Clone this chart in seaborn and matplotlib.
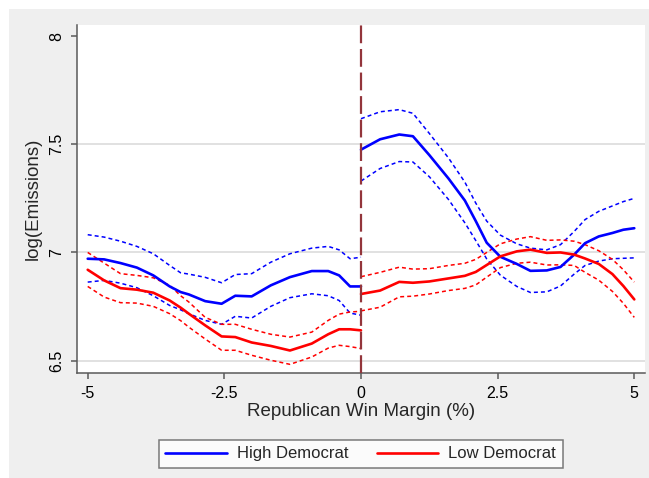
import numpy as np
import pandas as pd
import seaborn as sns
import matplotlib
matplotlib.use("Agg")
import matplotlib.pyplot as plt
from matplotlib.patches import Rectangle
from matplotlib.lines import Line2D

# Running-mean estimates on each side of the cutoff (Republican win margin, %)
x_left = [-5.0, -4.7, -4.4, -4.1, -3.8, -3.5, -3.3, -3.15, -2.85, -2.55,
          -2.3, -2.0, -1.65, -1.3, -0.9, -0.6, -0.4, -0.2, 0.0]
x_right = [0.0, 0.35, 0.7, 0.95, 1.25, 1.6, 1.9, 2.1, 2.3, 2.55,
           2.85, 3.1, 3.4, 3.65, 3.9, 4.1, 4.35, 4.6, 4.8, 5.0]

# High Democrat: fit, upper and lower confidence bounds
high_fit_left = [6.971, 6.968, 6.951, 6.930, 6.894, 6.843, 6.817, 6.806, 6.775, 6.763,
                 6.800, 6.797, 6.848, 6.886, 6.914, 6.914, 6.894, 6.843, 6.843]
high_hi_left = [7.082, 7.071, 7.052, 7.028, 6.994, 6.940, 6.906, 6.900, 6.885, 6.860,
                6.898, 6.902, 6.955, 6.994, 7.020, 7.028, 7.012, 6.971, 6.978]
high_lo_left = [6.863, 6.871, 6.858, 6.837, 6.800, 6.755, 6.735, 6.717, 6.686, 6.668,
                6.705, 6.697, 6.751, 6.791, 6.809, 6.800, 6.778, 6.720, 6.710]
high_fit_right = [7.475, 7.523, 7.545, 7.537, 7.450, 7.342, 7.240, 7.145, 7.045, 6.980,
                  6.947, 6.915, 6.917, 6.933, 6.990, 7.043, 7.074, 7.090, 7.105, 7.112]
high_hi_right = [7.618, 7.650, 7.660, 7.643, 7.550, 7.437, 7.325, 7.228, 7.145, 7.080,
                 7.040, 7.020, 7.012, 7.036, 7.097, 7.152, 7.190, 7.215, 7.235, 7.250]
high_lo_right = [7.330, 7.388, 7.420, 7.418, 7.350, 7.245, 7.137, 7.055, 6.970, 6.895,
                 6.843, 6.815, 6.818, 6.845, 6.900, 6.940, 6.960, 6.971, 6.973, 6.975]

# Low Democrat: fit, upper and lower confidence bounds
low_fit_left = [6.920, 6.871, 6.835, 6.828, 6.814, 6.778, 6.745, 6.717, 6.663, 6.612,
                6.609, 6.584, 6.568, 6.547, 6.579, 6.622, 6.645, 6.645, 6.640]
low_hi_left = [7.000, 6.951, 6.902, 6.894, 6.883, 6.848, 6.800, 6.771, 6.700, 6.668,
               6.668, 6.645, 6.622, 6.609, 6.632, 6.686, 6.715, 6.725, 6.728]
low_lo_left = [6.843, 6.794, 6.768, 6.766, 6.751, 6.717, 6.685, 6.655, 6.600, 6.548,
               6.548, 6.525, 6.502, 6.483, 6.517, 6.558, 6.571, 6.565, 6.556]
low_fit_right = [6.808, 6.824, 6.864, 6.860, 6.866, 6.880, 6.892, 6.910, 6.942, 6.982,
                 7.005, 7.013, 6.998, 7.000, 6.990, 6.972, 6.947, 6.900, 6.845, 6.783]
low_hi_right = [6.888, 6.908, 6.932, 6.923, 6.925, 6.940, 6.950, 6.968, 7.000, 7.040,
                7.062, 7.073, 7.056, 7.058, 7.052, 7.036, 7.008, 6.968, 6.920, 6.863]
low_lo_right = [6.730, 6.747, 6.795, 6.798, 6.808, 6.824, 6.834, 6.850, 6.886, 6.930,
                6.950, 6.955, 6.942, 6.943, 6.940, 6.908, 6.872, 6.820, 6.765, 6.700]

group_names = ["High Democrat", "Low Democrat"]
x_ticks = [-5, -2.5, 0, 2.5, 5]
x_tick_labels = ["-5", "-2.5", "0", "2.5", "5"]
y_ticks = [6.5, 7, 7.5, 8]
y_tick_labels = ["6.5", "7", "7.5", "8"]

series = {
    ("High Democrat", "fit"): (high_fit_left, high_fit_right),
    ("High Democrat", "hi"): (high_hi_left, high_hi_right),
    ("High Democrat", "lo"): (high_lo_left, high_lo_right),
    ("Low Democrat", "fit"): (low_fit_left, low_fit_right),
    ("Low Democrat", "hi"): (low_hi_left, low_hi_right),
    ("Low Democrat", "lo"): (low_lo_left, low_lo_right),
}

rows = []
for (grp, part), (left_vals, right_vals) in series.items():
    for side, xs, ys in (("left", x_left, left_vals), ("right", x_right, right_vals)):
        for xv, yv in zip(xs, ys):
            rows.append({"margin": xv, "emissions": yv, "group": grp,
                         "part": part, "side": side})
df = pd.DataFrame(rows)

sns.set_style("white")
plt.rcParams["font.family"] = ["Liberation Sans", "DejaVu Sans"]

bg = "#efefef"
axis_col = "#5a5a5a"
colors = {"High Democrat": "#0000ff", "Low Democrat": "#ff0000"}

fig = plt.figure(figsize=(6.49, 4.78), dpi=100, facecolor=bg)
# white strip along the top and left edges
fig.patches.append(Rectangle((0, 0), 9 / 649, 1, transform=fig.transFigure,
                             facecolor="white", edgecolor="none", zorder=0))
fig.patches.append(Rectangle((0, 1 - 9 / 478), 1, 9 / 478, transform=fig.transFigure,
                             facecolor="white", edgecolor="none", zorder=0))

ax = fig.add_axes([76.5 / 649, (478 - 373) / 478, (645 - 76.5) / 649, (373 - 25) / 478])
ax.set_facecolor("white")

for y in [6.5, 7, 7.5]:
    ax.axhline(y, color="#dedede", lw=1.3, zorder=0)

for (grp, part), _ in series.items():
    for side in ("left", "right"):
        sub = df[(df.group == grp) & (df.part == part) & (df.side == side)]
        if part == "fit":
            sns.lineplot(data=sub, x="margin", y="emissions", ax=ax, color=colors[grp],
                         lw=1.9, estimator=None, sort=False, legend=False, zorder=3)
        else:
            sns.lineplot(data=sub, x="margin", y="emissions", ax=ax, color=colors[grp],
                         lw=1.1, dashes=False, estimator=None, sort=False, legend=False,
                         zorder=2, linestyle=(0, (2.6, 2.0)))

ax.axvline(0, color="#93353b", lw=1.6, linestyle=(0, (8.0, 2.6)), zorder=4)

ax.set_xlim(-5.205, 5.196)
ax.set_ylim(6.443, 8.051)
ax.set_xticks(x_ticks)
ax.set_xticklabels(x_tick_labels)
ax.set_yticks(y_ticks)
ax.set_yticklabels(y_tick_labels, rotation=90, va="center")

for s in ("top", "right"):
    ax.spines[s].set_visible(False)
for s in ("left", "bottom"):
    ax.spines[s].set_color(axis_col)
    ax.spines[s].set_linewidth(1.1)

ax.tick_params(axis="both", which="major", direction="out", length=4.5, width=1.1,
               color=axis_col, labelsize=11.5, labelcolor="black", pad=4.5,
               bottom=True, left=True)

ax.set_xlabel("Republican Win Margin (%)", fontsize=13.5, labelpad=1.5)
ax.set_ylabel("log(Emissions)", fontsize=13.5, labelpad=5)

handles = [Line2D([0], [0], color=colors[g], lw=1.9) for g in group_names]
leg = ax.legend(handles, group_names, loc="upper center", bbox_to_anchor=(0.5, -0.168),
                ncol=2, frameon=True, fancybox=False, fontsize=12, handlelength=3.7,
                handletextpad=0.6, columnspacing=1.7, borderpad=0.4)
leg.get_frame().set_edgecolor(axis_col)
leg.get_frame().set_linewidth(1.1)
leg.get_frame().set_facecolor("white")

fig.savefig("out.png", dpi=100, facecolor=bg)
